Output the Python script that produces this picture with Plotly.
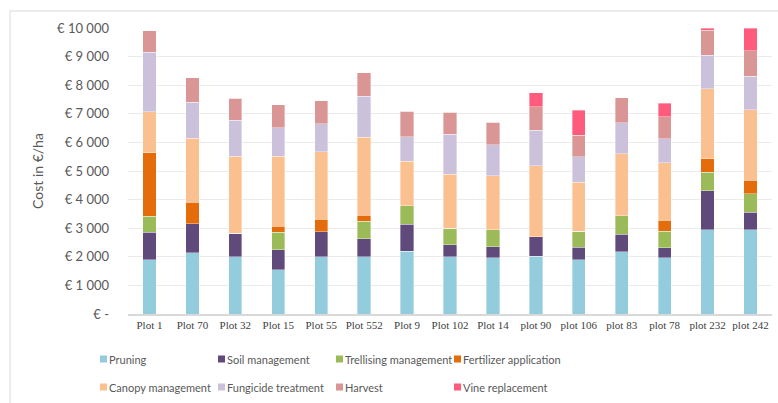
import plotly.graph_objects as go

# Vineyard cost breakdown per plot (EUR/ha)
plots = ["Plot 1", "Plot 70", "Plot 32", "Plot 15", "Plot 55", "Plot 552", "Plot 9",
         "Plot 102", "Plot 14", "plot 90", "plot 106", "plot 83", "plot 78",
         "plot 232", "plot 242"]

pruning = [1900, 2150, 2000, 1540, 2000, 2000, 2200, 2000, 1960, 2020, 1900, 2180, 1970, 2950, 2950]
soil_management = [960, 1000, 820, 710, 880, 630, 930, 420, 400, 680, 440, 610, 340, 1360, 610]
trellising_management = [550, 0, 0, 610, 0, 620, 650, 570, 580, 0, 560, 640, 580, 650, 650]
fertilizer_application = [2220, 750, 0, 210, 430, 210, 0, 0, 0, 0, 0, 0, 390, 460, 470]
canopy_management = [1450, 2250, 2690, 2450, 2370, 2720, 1560, 1900, 1900, 2480, 1700, 2170, 2000, 2450, 2460]
fungicide_treatment = [2080, 1250, 1260, 990, 970, 1440, 860, 1390, 1080, 1250, 900, 1080, 850, 1180, 1170]
harvest = [750, 860, 780, 810, 810, 810, 890, 780, 780, 820, 750, 880, 770, 870, 890]
vine_replacement = [0, 0, 0, 0, 0, 0, 0, 0, 0, 480, 880, 0, 470, 80, 800]

y_ticks = [0, 1000, 2000, 3000, 4000, 5000, 6000, 7000, 8000, 9000, 10000]
y_tick_labels = ["€ -", "€ 1 000", "€ 2 000", "€ 3 000", "€ 4 000", "€ 5 000",
                 "€ 6 000", "€ 7 000", "€ 8 000", "€ 9 000", "€ 10 000"]

series_names = ["Pruning", "Soil management", "Trellising management", "Fertilizer application",
                "Canopy management", "Fungicide treatment", "Harvest", "Vine replacement"]
series_values = [pruning, soil_management, trellising_management, fertilizer_application,
                 canopy_management, fungicide_treatment, harvest, vine_replacement]
series_colors = ["#93CDDD", "#604A7B", "#9BBB59", "#E46C0A",
                 "#FAC090", "#CCC1DA", "#D99694", "#FF5B7C"]

W, H = 778, 403
L, R, T, B = 128, 6, 28, 89
pw, ph = W - L - R, H - T - B


def px_x(x):
    return (x - L) / pw


def px_y(y):
    return (H - B - y) / ph


text_grey = "#595959"

fig = go.Figure()
for name, vals, color in zip(series_names, series_values, series_colors):
    fig.add_trace(go.Bar(
        x=plots, y=vals, name=name, showlegend=False,
        marker=dict(color=color, line=dict(color="rgba(255,255,255,0.6)", width=0.6)),
    ))

# Key below the chart: 4 columns x 2 rows of small swatches with labels
key_swatch_x = [100, 218, 336, 454]
key_row_y = [359, 387]
swatch = 7
shapes = [dict(
    type="rect", xref="paper", yref="paper",
    x0=px_x(10), x1=px_x(790), y0=px_y(412), y1=px_y(11),
    line=dict(color="#d9d9d9", width=1), fillcolor="rgba(0,0,0,0)", layer="below",
)]
annotations = []
for i, (name, color) in enumerate(zip(series_names, series_colors)):
    sx = key_swatch_x[i % 4]
    sy = key_row_y[i // 4]
    shapes.append(dict(
        type="rect", xref="paper", yref="paper",
        x0=px_x(sx), x1=px_x(sx + swatch),
        y0=px_y(sy + swatch / 2), y1=px_y(sy - swatch / 2),
        line=dict(width=0), fillcolor=color,
    ))
    annotations.append(dict(
        xref="paper", yref="paper", x=px_x(sx + swatch + 1), y=px_y(sy),
        xanchor="left", yanchor="middle", text=name, showarrow=False,
        font=dict(family="Lato", size=11, color=text_grey), borderpad=0,
    ))

fig.update_layout(
    width=W, height=H,
    margin=dict(l=L, r=R, t=T, b=B, autoexpand=False),
    barmode="stack", bargap=0.69,
    paper_bgcolor="white", plot_bgcolor="white",
    xaxis=dict(
        showline=True, linecolor="#d9d9d9", linewidth=1.5,
        showgrid=False, ticks="",
        tickfont=dict(family="Liberation Serif", size=11, color="#404040"),
        automargin=False,
    ),
    yaxis=dict(
        range=[0, 10000], tickvals=y_ticks, ticktext=y_tick_labels,
        showgrid=True, gridcolor="#ebebeb", gridwidth=1,
        zeroline=False, showline=False, ticks="",
        ticklabelstandoff=18,
        tickfont=dict(family="Lato", size=13, color=text_grey),
        title=dict(text="Cost in €/ha", standoff=10,
                   font=dict(family="Lato", size=14, color=text_grey)),
        automargin=False,
    ),
    shapes=shapes,
    annotations=annotations,
)

fig.write_html("out.html")
